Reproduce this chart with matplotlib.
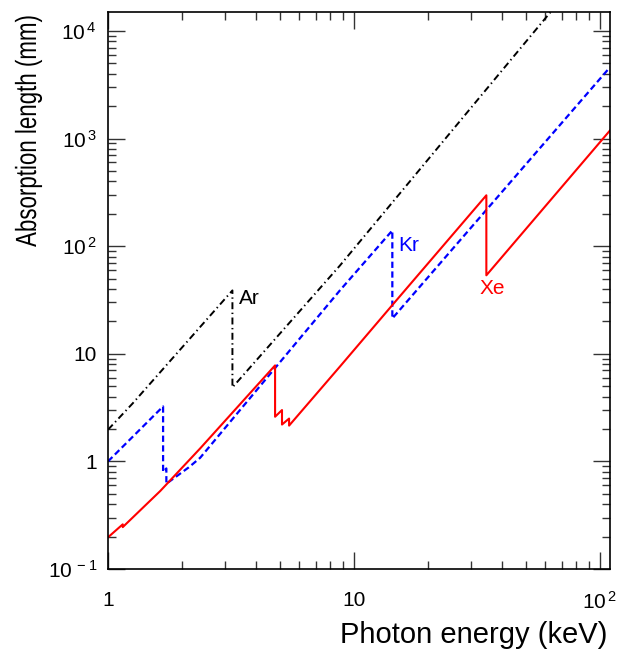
import numpy as np
import matplotlib
matplotlib.use("Agg")
import matplotlib.pyplot as plt
from matplotlib import ticker
from matplotlib.patheffects import AbstractPathEffect
from matplotlib.transforms import Affine2D

plt.rcParams['font.family'] = ['Liberation Sans', 'DejaVu Sans']
plt.rcParams['mathtext.fontset'] = 'custom'
plt.rcParams['mathtext.rm'] = 'Liberation Sans'
plt.rcParams['lines.scale_dashes'] = False

# photon energy (keV) and absorption length (mm)
ar_e = [1.0, 1.26, 3.206, 3.206, 8.77, 61.5, 110.0]
ar_v = [1.97, 3.46, 38.8, 4.87, 66.0, 14000.0, 69000.0]

kr_e = [1.0, 1.675, 1.675, 1.727, 1.727, 2.13, 2.37, 8.77, 14.33, 14.33, 110.0]
kr_v = [1.0, 3.24, 0.80, 0.86, 0.62, 0.88, 1.08, 38.8, 140.0, 21.3, 4600.0]

xe_e = [1.0, 1.148, 1.148, 1.63, 2.37, 4.78, 4.78, 5.1, 5.1, 5.45, 5.45,
        8.77, 14.3, 34.56, 34.56, 110.0]
xe_v = [0.197, 0.26, 0.245, 0.53, 1.32, 7.8, 2.6, 3.0, 2.2, 2.5, 2.15,
        7.6, 28.2, 297.0, 53.6, 1190.0]

labels = ['Ar', 'Kr', 'Xe']
label_pos = [(3.41, 32.7), (15.1, 101.6), (32.5, 40.5)]
colors = ['black', '#0000ff', '#ff0000']

y_ticks = [0.1, 1, 10, 100, 1000, 10000]
y_ticklabels = [r'$\mathregular{10^{\,-1}}$', '1', '10', r'$\mathregular{10^{\,2}}$',
                r'$\mathregular{10^{\,3}}$', r'$\mathregular{10^{\,4}}$']
x_ticks = [1, 10, 100]
x_ticklabels = ['1', '10', r'$\mathregular{10^{\,2}}$']


class Squash(AbstractPathEffect):
    # narrows the glyphs along the text direction, keeping the text's end in place
    def __init__(self, sx):
        super().__init__()
        self.sx = sx

    def draw_path(self, renderer, gc, tpath, affine, rgbFace=None):
        end = tpath.get_extents().x1
        squash = Affine2D().translate(-end, 0).scale(self.sx, 1.0).translate(end, 0)
        renderer.draw_path(gc, tpath, squash + affine, rgbFace)


fig = plt.figure(figsize=(6.23, 6.53), dpi=100)
ax = fig.add_axes([108 / 623, 1 - 569 / 653, 502 / 623, 557 / 653])

ax.plot(ar_e, ar_v, color=colors[0], lw=1.4, dashes=(5, 2.5, 1, 2.5))
ax.plot(kr_e, kr_v, color=colors[1], lw=1.6, dashes=(4.5, 2.5))
ax.plot(xe_e, xe_v, color=colors[2], lw=1.5)

for lab, (lx, ly), c in zip(labels, label_pos, colors):
    ax.text(lx, ly, lab, color=c, fontsize=15, ha='left', va='center')

ax.set_xscale('log')
ax.set_yscale('log')
ax.set_xlim(1, 110)
ax.set_ylim(0.1, 15000)

ax.xaxis.set_major_locator(ticker.FixedLocator(x_ticks))
ax.xaxis.set_major_formatter(ticker.FixedFormatter(x_ticklabels))
ax.xaxis.set_minor_locator(ticker.LogLocator(base=10, subs=np.arange(2, 10)))
ax.xaxis.set_minor_formatter(ticker.NullFormatter())
ax.yaxis.set_major_locator(ticker.FixedLocator(y_ticks))
ax.yaxis.set_major_formatter(ticker.FixedFormatter(y_ticklabels))
ax.yaxis.set_minor_locator(ticker.LogLocator(base=10, subs=np.arange(2, 10)))
ax.yaxis.set_minor_formatter(ticker.NullFormatter())

ax.tick_params(which='both', direction='in', top=True, right=True, width=1, colors='#333333',
               labelcolor='black', labelsize=15)
ax.tick_params(which='major', length=12)
ax.tick_params(which='minor', length=6)
ax.tick_params(axis='x', which='both', pad=16)
ax.tick_params(axis='y', which='both', pad=8)
for s in ax.spines.values():
    s.set_linewidth(1.2)

fig.text(28 / 623, 1 - 15 / 653, 'Absorption length (mm)', rotation=90,
         ha='center', va='top', fontsize=21, path_effects=[Squash(0.765)])
fig.text(607 / 623, 1 - 635 / 653, 'Photon energy (keV)', ha='right', va='center', fontsize=21)

fig.savefig('out.png', dpi=100)
